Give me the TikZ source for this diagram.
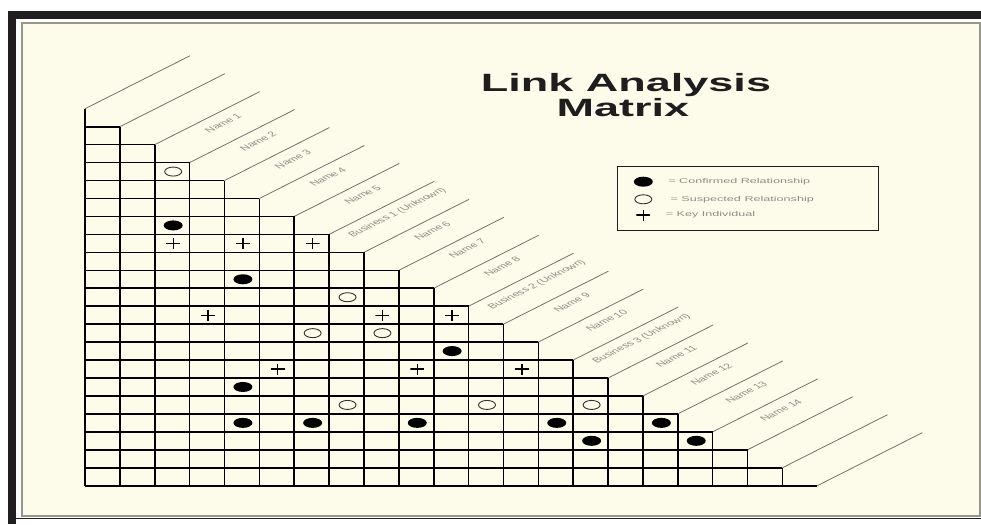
\documentclass[tikz,border=0pt]{standalone}
\usepackage{fontspec}
\setmainfont{Liberation Sans}
\usetikzlibrary{shapes.geometric, positioning}
\definecolor{panelcream}{RGB}{253,252,234}
\definecolor{frameblack}{RGB}{33,30,31}
\definecolor{framegray}{RGB}{150,150,140}
\definecolor{diaggray}{RGB}{115,115,110}
\definecolor{labelgray}{RGB}{140,140,135}
\definecolor{titleblack}{RGB}{30,30,30}
\tikzset{
    gridline/.style={line width=1.6pt, black},
    diagline/.style={line width=0.8pt, diaggray},
    namelabel/.style={font=\fontsize{7}{7}\selectfont, text=labelgray, inner sep=0pt, xscale=1.8, rotate=42},
    titletext/.style={font=\fontsize{25}{25}\selectfont\bfseries, text=titleblack, inner sep=0pt, xscale=1.8},
    legendtext/.style={font=\fontsize{7}{7}\selectfont, text=labelgray, inner sep=0pt, xscale=1.8, anchor=west},
    legendbox/.style={rectangle, draw=titleblack, line width=1.5pt, minimum width=261pt, minimum height=64pt, inner sep=0pt},
    confirmed/.style={ellipse, fill=black, minimum width=19pt, minimum height=10pt, inner sep=0pt},
    suspected/.style={ellipse, draw=black!80, line width=0.9pt, minimum width=17pt, minimum height=9pt, inner sep=0pt},
    keyperson/.style={rectangle, minimum width=14pt, minimum height=11pt, inner sep=0pt,
        path picture={\draw[line width=1.3pt] (path picture bounding box.west) -- (path picture bounding box.east)
            (path picture bounding box.north) -- (path picture bounding box.south);}},
}

\begin{document}
\begin{tikzpicture}[x=1pt, y=-1pt]
\def\xo{85}
\def\yo{108.75}
\def\cw{34.87}
\def\rh{17.95}

\useasboundingbox (0,0) rectangle (981,524);
\fill[white] (0,0) rectangle (981,524);

% frame
\fill[frameblack] (8,11) rectangle (981,19);
\fill[frameblack] (8,11) rectangle (16,524);
\draw[frameblack, line width=1.2pt] (16,518.5) -- (981,518.5);
\filldraw[fill=panelcream, draw=framegray, line width=1.5pt] (22,23) rectangle (980,516);

% title
\node[titletext, anchor=base] (title1) at (626,91.7) {Link Analysis};
\node[titletext, anchor=base] (title2) at (623,116.7) {Matrix};

% slanted header lines
\foreach \k in {0,...,21}
    \draw[diagline] ({\xo+\k*\cw}, {\yo+\k*\rh}) -- ++(105,-53);

% names along the header bands
\foreach \name [count=\i from 2] in {Name 1, Name 2, Name 3, Name 4, Name 5, {Business 1 (Unknown)}, Name 6, Name 7, Name 8, {Business 2 (Unknown)}, Name 9, Name 10, {Business 3 (Unknown)}, Name 11, Name 12, Name 13, Name 14}
    \node[namelabel] (name\i) at ({\xo+(\i+0.5)*\cw+51}, {\yo+(\i+0.5)*\rh-30.5}) {\name};

% staircase grid
\foreach \k in {0,...,20}
    \draw[gridline] ({\xo+\k*\cw}, {\yo+\k*\rh}) -- ({\xo+\k*\cw}, {\yo+21*\rh});
\foreach \k in {1,...,21}
    \draw[gridline] (\xo, {\yo+\k*\rh}) -- ({\xo+\k*\cw}, {\yo+\k*\rh});

% cell entries (column/row)
\foreach \c/\r [count=\i] in {2/5, 4/8, 10/12, 4/14, 4/16, 6/16, 9/16, 13/16, 16/16, 14/17, 17/17}
    \node[confirmed] (conf\i) at ({\xo+(\c+0.5)*\cw+1}, {\yo+(\r+1.5)*\rh}) {};
\foreach \c/\r [count=\i] in {2/2, 7/9, 6/11, 8/11, 7/15, 11/15, 14/15}
    \node[suspected] (susp\i) at ({\xo+(\c+0.5)*\cw+1}, {\yo+(\r+1.5)*\rh}) {};
\foreach \c/\r [count=\i] in {2/6, 4/6, 6/6, 3/10, 8/10, 10/10, 5/13, 9/13, 12/13}
    \node[keyperson] (key\i) at ({\xo+(\c+0.5)*\cw+1}, {\yo+(\r+1.5)*\rh}) {};

% legend
\node[legendbox] (legend) at (747.8,198.7) {};
\node[confirmed] (legconf) at (643.3,181.7) {};
\node[suspected] (legsusp) at (643.3,199.3) {};
\node[keyperson] (legkey) at (643.3,215) {};
\node[legendtext, right=15pt of legconf] (legconftext) {= Confirmed Relationship};
\node[legendtext, right=18pt of legsusp] (legsusptext) {= Suspected Relationship};
\node[legendtext, right=15pt of legkey] (legkeytext) {= Key Individual};

\end{tikzpicture}
\end{document}
